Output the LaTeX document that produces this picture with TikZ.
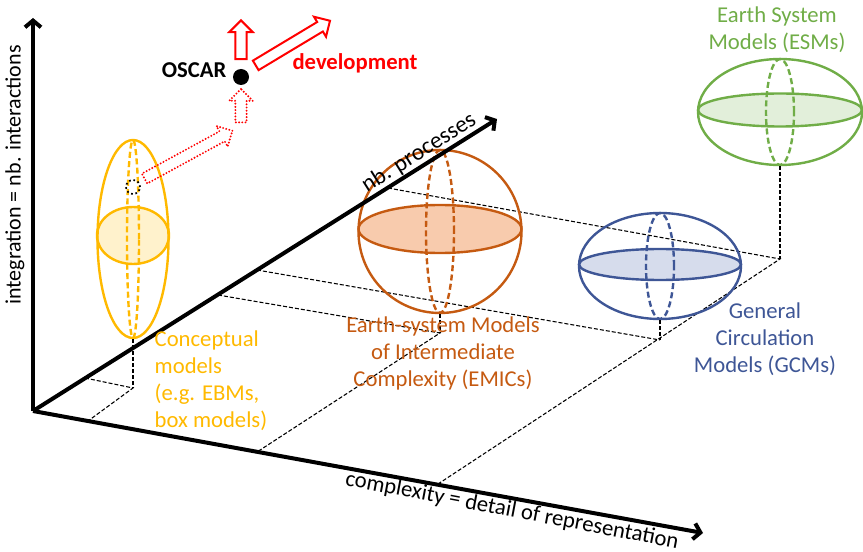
\documentclass[tikz,border=0pt]{standalone}
\usepackage{fontspec}
\setmainfont{Carlito}
\usepackage{xcolor}
\usepackage{tikz}
\usetikzlibrary{arrows.meta,positioning,shapes.geometric,shapes.arrows}
\definecolor{conccol}{RGB}{255,185,0}
\definecolor{concfill}{RGB}{255,242,204}
\definecolor{emiccol}{RGB}{197,90,17}
\definecolor{emicfill}{RGB}{248,203,173}
\definecolor{gcmcol}{RGB}{62,86,150}
\definecolor{gcmfill}{RGB}{214,220,236}
\definecolor{esmcol}{RGB}{112,173,71}
\definecolor{esmfill}{RGB}{226,239,218}

\begin{document}
\begin{tikzpicture}[x=0.75pt, y=-0.75pt,
            axis/.style={line width=3pt, -{Straight Barb[length=5pt,width=12pt]}},
            floor/.style={dash pattern=on 3pt off 1.5pt, line width=0.8pt},
            shell/.style={draw, ellipse, line width=1.8pt, inner sep=0pt},
            belt/.style={shell, dash pattern=on 4.5pt off 2.5pt},
            modeltext/.style={align=center, font=\fontsize{17}{20.25}\selectfont},
            axistext/.style={font=\fontsize{16.5}{20}\selectfont},
            boldtext/.style={font=\fontsize{17}{20}\selectfont\bfseries},
            hollow/.style={single arrow, draw=red, line width=1.5pt, inner xsep=0pt,
                 inner ysep=3.4pt, single arrow head extend=4.6pt},
            dotty/.style={hollow, line width=1.6pt, line cap=round, dash pattern=on 0pt off 2.4pt}
            ]
            \useasboundingbox (0,0) rectangle (863,552);

            % Axes and floor points with manual coordinates
            \coordinate (o) at (33,411);
            \coordinate (ytip) at (33,18);
            \coordinate (xtip) at (703,533);
            \coordinate (ztip) at (497,119);
            \coordinate (concf) at (133,388);
            \coordinate (concx) at (88,421);
            \coordinate (concz) at (85,378);
            \coordinate (emicf) at (440,333);
            \coordinate (emicx) at (257,452);
            \coordinate (emicz) at (218,295);
            \coordinate (gcmf) at (660,340);
            \coordinate (gcmz) at (257,270);
            \coordinate (esmf) at (780,259);
            \coordinate (esmx) at (438,484);
            \coordinate (esmz) at (388,188);

            % Floor projections
            \draw[floor] (concz) -- (concf) -- (concx);
            \draw[floor] (emicz) -- (emicf) -- (emicx);
            \draw[floor] (gcmz) -- (gcmf);
            \draw[floor] (esmz) -- (esmf) -- (esmx);

            % Model shapes
            \node[shell, draw=conccol, fill=concfill, minimum width=54pt, minimum height=42.75pt] (concdisc) at (133,235.5) {};
            \node[belt, draw=conccol, minimum width=9pt, minimum height=148.5pt] (concbelt) at (133,239) {};
            \node[shell, draw=conccol, minimum width=53.25pt, minimum height=148.5pt] (conc) at (133,239) {};
            \node[draw, circle, dotted, line width=1.3pt, minimum size=10.5pt, inner sep=0pt] (now) at (133,187) {};

            \node[shell, draw=emiccol, fill=emicfill, minimum width=122.25pt, minimum height=36pt] (emicdisc) at (440,229) {};
            \node[belt, draw=emiccol, minimum width=21pt, minimum height=122.25pt] (emicbelt) at (440,231.5) {};
            \node[shell, draw=emiccol, minimum width=122.25pt, minimum height=122.25pt] (emic) at (440,231.5) {};

            \node[shell, draw=gcmcol, fill=gcmfill, minimum width=121.5pt, minimum height=23.25pt] (gcmdisc) at (660,264.5) {};
            \node[belt, draw=gcmcol, minimum width=21pt, minimum height=79.5pt] (gcmbelt) at (660,266) {};
            \node[shell, draw=gcmcol, minimum width=121.5pt, minimum height=79.5pt] (gcm) at (660,266) {};

            \node[shell, draw=esmcol, fill=esmfill, minimum width=123pt, minimum height=24.75pt] (esmdisc) at (780,110) {};
            \node[belt, draw=esmcol, minimum width=21pt, minimum height=79.5pt] (esmbelt) at (780,112) {};
            \node[shell, draw=esmcol, minimum width=123pt, minimum height=79.5pt] (esm) at (780,112) {};

            % Drops to the floor
            \draw[floor] (conc.south) -- (concf);
            \draw[floor] (emic.south) -- (emicf);
            \draw[floor] (gcm.south) -- (gcmf);
            \draw[floor] (esm.south) -- (esmf);

            % Axes
            \draw[axis] (o) -- (ytip);
            \draw[axis] (o) -- (xtip);
            \draw[axis] (o) -- (ztip);
            \node[axistext, rotate=90] (ylab) at (15,175) {integration = nb. interactions};
            \node[axistext, font=\fontsize{17}{21}\selectfont, rotate=-10.8] (xlab) at (512,511) {complexity = detail of representation};
            \node[axistext, font=\fontsize{17.5}{21}\selectfont, rotate=32.2] (zlab) at (419,153) {nb. processes};

            % Labels
            \node[modeltext, text=esmcol] (esmtxt) at (777,30) {Earth System\\Models (ESMs)};
            \node[modeltext, text=gcmcol] (gcmtxt) at (765,339) {General\\Circulation\\Models (GCMs)};
            \node[modeltext, text=emiccol] (emictxt) at (443,353) {Earth-system Models\\of Intermediate\\Complexity (EMICs)};
            \node[modeltext, text=conccol, align=left, anchor=west] (conctxt) at (150,381) {Conceptual\\models\\(e.g. EBMs,\\box models)};

            % OSCAR and its development
            \node[circle, fill, minimum size=12pt, inner sep=0pt] (oscar) at (241,77) {};
            \node[boldtext, anchor=east] (oscartxt) at (231,70) {OSCAR};
            \node[boldtext, text=red] (devtxt) at (355,63) {development};
            \node[hollow, minimum height=29pt, rotate=90] (devup) at (241,42.5) {};
            \node[hollow, minimum height=65pt, rotate=31] (devside) at (290.5,44.5) {};
            \node[dotty, minimum height=75pt, rotate=28.6] (pastside) at (186,156) {};
            \node[dotty, minimum height=25pt, rotate=90] (pastup) at (241,108.5) {};
        \end{tikzpicture}
\end{document}
